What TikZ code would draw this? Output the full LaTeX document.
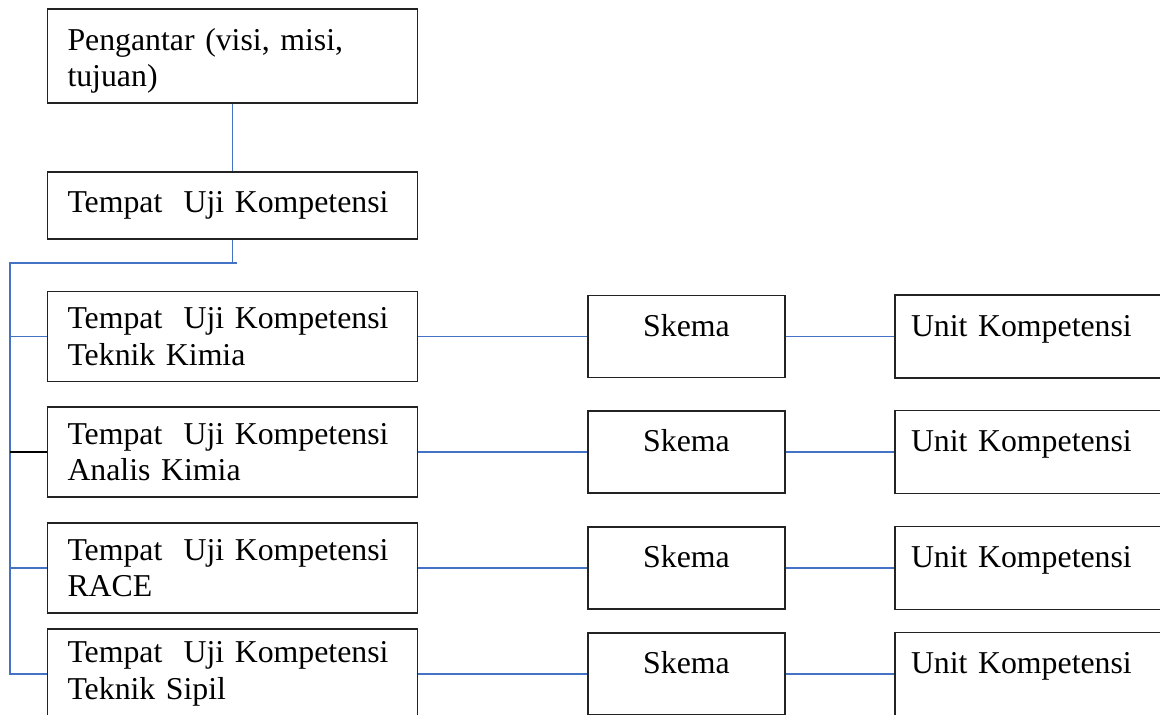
\documentclass[tikz,border=0pt]{standalone}
\usepackage{fontspec}
\setmainfont{Liberation Serif}
\usetikzlibrary{positioning}

\definecolor{biru}{RGB}{68,114,196}
\definecolor{tepi}{RGB}{35,35,35}

\tikzset{
  gaya bagan/.style={
      x=1pt, y=1pt,
      kotak/.style={rectangle, draw=tepi, line width=1.3pt, inner xsep=20pt, inner ysep=0pt, text width=330pt, minimum height=90pt, align=left},
      skema/.style={rectangle, draw=tepi, line width=1.3pt, minimum width=197pt, minimum height=82pt, text height=22pt, text depth=22pt, align=center},
      unit/.style={rectangle, draw=tepi, line width=1.3pt, inner xsep=16pt, text width=268pt, minimum height=83pt, text height=22pt, text depth=22pt, align=left},
      garis/.style={biru, line width=1.9pt},
      every node/.style={font={\fontsize{31.8pt}{36.5pt}\selectfont}},
    },
}

\begin{document}
\begin{tikzpicture}[gaya bagan]
            \useasboundingbox (0,0) rectangle (1160,715);

            \node[kotak, minimum height=94pt, text height=32pt] (pengantar) at (232.5,659) {Pengantar (visi, misi,\\ tujuan)};
            \node[kotak, minimum height=67pt, node distance=149.5pt, below of=pengantar] (tuk) {Tempat\ \ Uji Kompetensi};

            \node[kotak, node distance=131pt, below of=tuk] (tuk-1) {Tempat\ \ Uji Kompetensi\\ Teknik Kimia};
            \node[kotak, node distance=115.5pt, below of=tuk-1] (tuk-2) {Tempat\ \ Uji Kompetensi\\ Analis Kimia};
            \node[kotak, node distance=116pt, below of=tuk-2] (tuk-3) {Tempat\ \ Uji Kompetensi\\ RACE};
            \node[kotak, node distance=106pt, below of=tuk-3] (tuk-4) {Tempat\ \ Uji Kompetensi\\ Teknik Sipil};

            \node[skema, node distance=454pt, right of=tuk-1] (skema-1) {Skema};
            \node[skema, node distance=454pt, right of=tuk-2] (skema-2) {Skema};
            \node[skema, node distance=454pt, right of=tuk-3] (skema-3) {Skema};
            \node[skema, node distance=454pt, right of=tuk-4] (skema-4) {Skema};

            \node[unit, node distance=358.5pt, right of=skema-1] (unit-1) {Unit Kompetensi};
            \node[unit, node distance=358.5pt, right of=skema-2] (unit-2) {Unit Kompetensi};
            \node[unit, node distance=358.5pt, right of=skema-3] (unit-3) {Unit Kompetensi};
            \node[unit, node distance=358.5pt, right of=skema-4] (unit-4) {Unit Kompetensi};

            \coordinate (sudut) at (10,452);
            \coordinate (ujung) at (237,452);

            \draw[garis] (pengantar) -- (tuk);
            \draw[garis] (tuk.south) -- (tuk.south |- ujung);
            \draw[garis] (ujung) -- (sudut) -- (sudut |- tuk-4.west) -- (tuk-4.west);
            \draw[garis] (sudut |- tuk-1.west) -- (tuk-1.west);
            \draw[black, line width=1.3pt] (sudut |- tuk-2.west) -- (tuk-2.west);
            \draw[garis] (sudut |- tuk-3.west) -- (tuk-3.west);

            \draw[garis] (tuk-1) -- (skema-1);
            \draw[garis] (tuk-2) -- (skema-2);
            \draw[garis] (tuk-3) -- (skema-3);
            \draw[garis] (tuk-4) -- (skema-4);
            \draw[garis] (skema-1) -- (unit-1);
            \draw[garis] (skema-2) -- (unit-2);
            \draw[garis] (skema-3) -- (unit-3);
            \draw[garis] (skema-4) -- (unit-4);
          \end{tikzpicture}
\end{document}
